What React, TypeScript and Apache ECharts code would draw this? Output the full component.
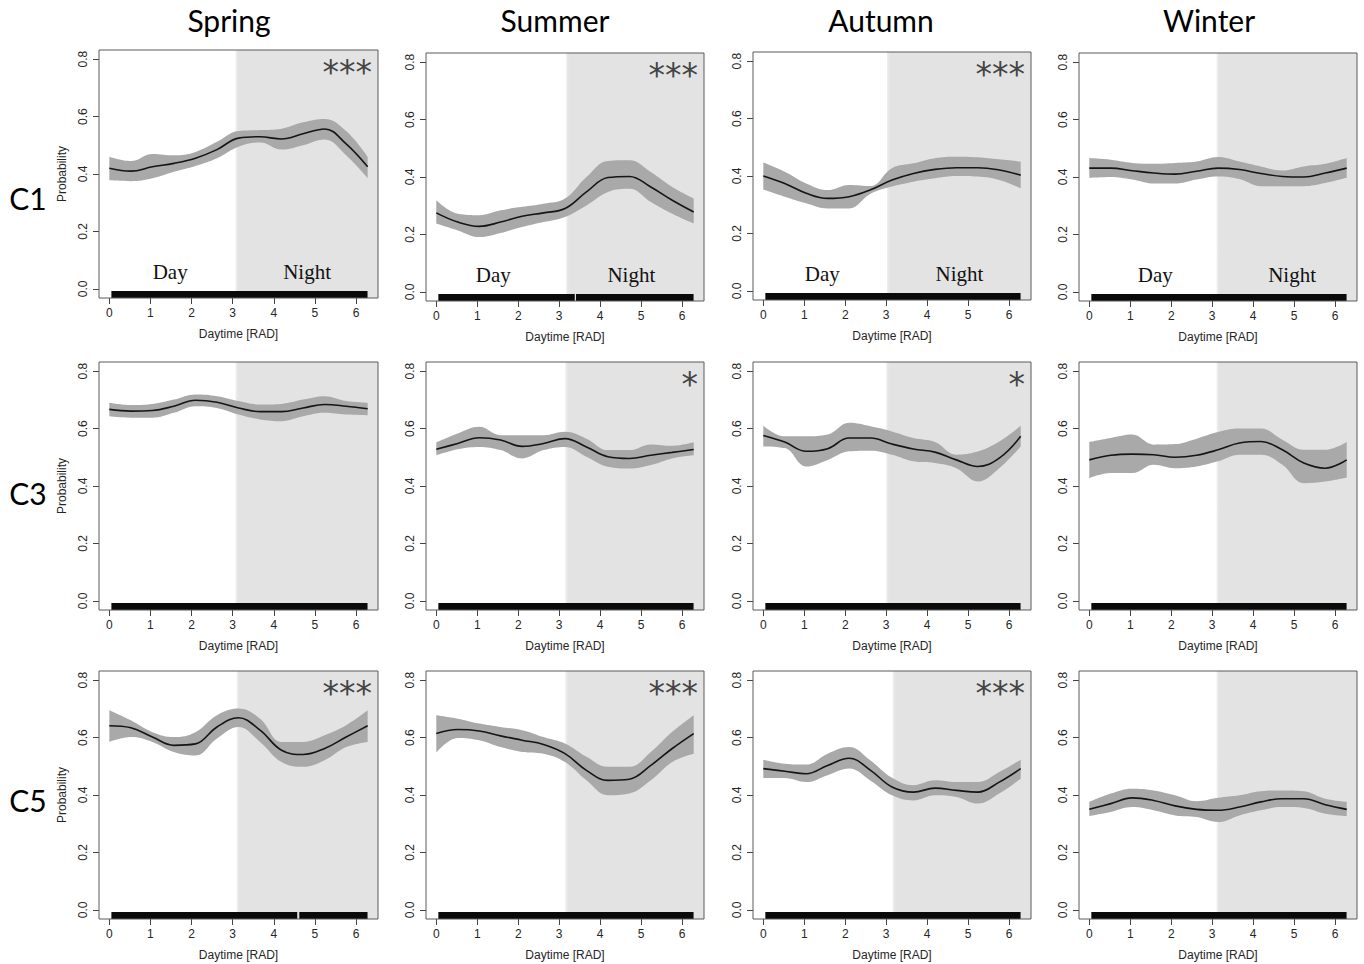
import React, { useEffect, useRef } from 'react';
import * as echarts from 'echarts';

// ---------- data ----------
const X_POINTS = [0, 0.524, 1.047, 1.571, 2.094, 2.618, 3.142, 3.665, 4.189, 4.712, 5.236, 5.76, 6.283];
const X_TICKS = [0, 1, 2, 3, 4, 5, 6];
const Y_TICKS = [0, 0.2, 0.4, 0.6, 0.8];
const SEASONS = ['Spring', 'Summer', 'Autumn', 'Winter'];
const CLUSTERS = ['C1', 'C3', 'C5'];

const SPRING_C1_MEAN = [0.42, 0.41, 0.425, 0.437, 0.455, 0.485, 0.525, 0.53, 0.522, 0.54, 0.557, 0.505, 0.425];
const SPRING_C1_UPPER = [0.46, 0.445, 0.47, 0.465, 0.477, 0.512, 0.55, 0.553, 0.558, 0.58, 0.592, 0.55, 0.46];
const SPRING_C1_LOWER = [0.378, 0.375, 0.385, 0.408, 0.428, 0.455, 0.495, 0.51, 0.485, 0.5, 0.52, 0.465, 0.385];

const SUMMER_C1_MEAN = [0.275, 0.243, 0.228, 0.243, 0.263, 0.275, 0.29, 0.348, 0.398, 0.402, 0.365, 0.319, 0.278];
const SUMMER_C1_UPPER = [0.319, 0.272, 0.267, 0.284, 0.296, 0.307, 0.325, 0.4, 0.456, 0.458, 0.417, 0.365, 0.325];
const SUMMER_C1_LOWER = [0.238, 0.214, 0.191, 0.205, 0.226, 0.243, 0.261, 0.301, 0.348, 0.359, 0.313, 0.272, 0.238];

const AUTUMN_C1_MEAN = [0.4, 0.374, 0.34, 0.322, 0.328, 0.352, 0.386, 0.409, 0.423, 0.429, 0.429, 0.421, 0.403];
const AUTUMN_C1_UPPER = [0.447, 0.415, 0.374, 0.351, 0.369, 0.365, 0.427, 0.444, 0.462, 0.467, 0.465, 0.458, 0.45];
const AUTUMN_C1_LOWER = [0.353, 0.328, 0.305, 0.287, 0.287, 0.338, 0.363, 0.38, 0.392, 0.4, 0.398, 0.386, 0.357];

const WINTER_C1_MEAN = [0.431, 0.431, 0.422, 0.414, 0.41, 0.42, 0.431, 0.426, 0.412, 0.402, 0.4, 0.414, 0.431];
const WINTER_C1_UPPER = [0.466, 0.46, 0.449, 0.446, 0.449, 0.454, 0.47, 0.454, 0.437, 0.423, 0.437, 0.446, 0.466];
const WINTER_C1_LOWER = [0.397, 0.4, 0.391, 0.377, 0.377, 0.391, 0.402, 0.393, 0.368, 0.368, 0.368, 0.379, 0.397];

const SPRING_C3_MEAN = [0.667, 0.661, 0.663, 0.678, 0.699, 0.692, 0.672, 0.659, 0.659, 0.672, 0.684, 0.678, 0.669];
const SPRING_C3_UPPER = [0.69, 0.682, 0.686, 0.701, 0.719, 0.713, 0.696, 0.684, 0.686, 0.701, 0.713, 0.696, 0.69];
const SPRING_C3_LOWER = [0.643, 0.638, 0.638, 0.655, 0.678, 0.672, 0.649, 0.632, 0.626, 0.643, 0.655, 0.649, 0.646];

const SUMMER_C3_MEAN = [0.528, 0.548, 0.568, 0.56, 0.538, 0.548, 0.565, 0.536, 0.502, 0.496, 0.507, 0.517, 0.527];
const SUMMER_C3_UPPER = [0.552, 0.583, 0.606, 0.577, 0.577, 0.577, 0.589, 0.565, 0.525, 0.525, 0.545, 0.54, 0.552];
const SUMMER_C3_LOWER = [0.507, 0.528, 0.536, 0.525, 0.496, 0.525, 0.536, 0.502, 0.467, 0.461, 0.473, 0.496, 0.507];

const AUTUMN_C3_MEAN = [0.576, 0.553, 0.521, 0.53, 0.567, 0.567, 0.546, 0.529, 0.518, 0.491, 0.468, 0.497, 0.573];
const AUTUMN_C3_UPPER = [0.61, 0.573, 0.573, 0.579, 0.62, 0.608, 0.59, 0.567, 0.553, 0.509, 0.52, 0.555, 0.61];
const AUTUMN_C3_LOWER = [0.538, 0.532, 0.468, 0.491, 0.521, 0.523, 0.509, 0.486, 0.48, 0.462, 0.416, 0.462, 0.538];

const WINTER_C3_MEAN = [0.491, 0.507, 0.511, 0.509, 0.5, 0.507, 0.526, 0.55, 0.555, 0.526, 0.48, 0.462, 0.491];
const WINTER_C3_UPPER = [0.553, 0.567, 0.579, 0.544, 0.546, 0.565, 0.588, 0.6, 0.6, 0.561, 0.526, 0.526, 0.553];
const WINTER_C3_LOWER = [0.427, 0.445, 0.445, 0.474, 0.462, 0.468, 0.486, 0.509, 0.509, 0.474, 0.41, 0.416, 0.43];

const SPRING_C5_MEAN = [0.641, 0.634, 0.602, 0.573, 0.578, 0.637, 0.669, 0.626, 0.556, 0.541, 0.562, 0.602, 0.641];
const SPRING_C5_UPPER = [0.695, 0.66, 0.619, 0.602, 0.619, 0.678, 0.701, 0.666, 0.585, 0.585, 0.608, 0.643, 0.695];
const SPRING_C5_LOWER = [0.585, 0.602, 0.585, 0.55, 0.538, 0.597, 0.637, 0.585, 0.515, 0.498, 0.521, 0.567, 0.585];

const SUMMER_C5_MEAN = [0.614, 0.628, 0.623, 0.606, 0.591, 0.576, 0.544, 0.486, 0.451, 0.455, 0.503, 0.562, 0.614];
const SUMMER_C5_UPPER = [0.678, 0.666, 0.649, 0.637, 0.626, 0.602, 0.579, 0.533, 0.498, 0.498, 0.55, 0.62, 0.678];
const SUMMER_C5_LOWER = [0.548, 0.599, 0.591, 0.567, 0.55, 0.544, 0.515, 0.451, 0.399, 0.405, 0.451, 0.515, 0.544];

const AUTUMN_C5_MEAN = [0.492, 0.483, 0.474, 0.503, 0.528, 0.486, 0.428, 0.41, 0.424, 0.416, 0.41, 0.445, 0.492];
const AUTUMN_C5_UPPER = [0.523, 0.509, 0.506, 0.544, 0.567, 0.52, 0.46, 0.434, 0.451, 0.445, 0.445, 0.48, 0.523];
const AUTUMN_C5_LOWER = [0.459, 0.459, 0.445, 0.469, 0.492, 0.45, 0.399, 0.381, 0.399, 0.393, 0.37, 0.405, 0.457];

const WINTER_C5_MEAN = [0.35, 0.37, 0.39, 0.381, 0.362, 0.35, 0.347, 0.358, 0.376, 0.387, 0.387, 0.366, 0.35];
const WINTER_C5_UPPER = [0.376, 0.405, 0.422, 0.416, 0.399, 0.378, 0.39, 0.399, 0.413, 0.416, 0.413, 0.387, 0.376];
const WINTER_C5_LOWER = [0.327, 0.341, 0.358, 0.347, 0.329, 0.323, 0.306, 0.329, 0.347, 0.358, 0.355, 0.335, 0.327];

const NIGHT_START_C1 = [3.07, 3.17, 3.02, 3.11];
const NIGHT_START_C3 = [3.07, 3.15, 3.0, 3.11];
const NIGHT_START_C5 = [3.1, 3.15, 3.16, 3.11];

const SIGNIF_C1 = ['***', '***', '***', ''];
const SIGNIF_C3 = ['', '*', '*', ''];
const SIGNIF_C5 = ['***', '***', '***', ''];

const RUG_DEFAULT = [[0.05, 6.28]];
const RUG_SUMMER_C1 = [[0.05, 3.38], [3.41, 6.28]];
const RUG_SPRING_C5 = [[0.05, 4.57], [4.62, 6.28]];

const DAY_X = [1.48, 1.39, 1.44, 1.61];
const NIGHT_X = [4.81, 4.76, 4.79, 4.95];
const LABEL_Y = 0.057;

const PANELS = [
  [
    { mean: SPRING_C1_MEAN, upper: SPRING_C1_UPPER, lower: SPRING_C1_LOWER, rug: RUG_DEFAULT },
    { mean: SUMMER_C1_MEAN, upper: SUMMER_C1_UPPER, lower: SUMMER_C1_LOWER, rug: RUG_SUMMER_C1 },
    { mean: AUTUMN_C1_MEAN, upper: AUTUMN_C1_UPPER, lower: AUTUMN_C1_LOWER, rug: RUG_DEFAULT },
    { mean: WINTER_C1_MEAN, upper: WINTER_C1_UPPER, lower: WINTER_C1_LOWER, rug: RUG_DEFAULT },
  ],
  [
    { mean: SPRING_C3_MEAN, upper: SPRING_C3_UPPER, lower: SPRING_C3_LOWER, rug: RUG_DEFAULT },
    { mean: SUMMER_C3_MEAN, upper: SUMMER_C3_UPPER, lower: SUMMER_C3_LOWER, rug: RUG_DEFAULT },
    { mean: AUTUMN_C3_MEAN, upper: AUTUMN_C3_UPPER, lower: AUTUMN_C3_LOWER, rug: RUG_DEFAULT },
    { mean: WINTER_C3_MEAN, upper: WINTER_C3_UPPER, lower: WINTER_C3_LOWER, rug: RUG_DEFAULT },
  ],
  [
    { mean: SPRING_C5_MEAN, upper: SPRING_C5_UPPER, lower: SPRING_C5_LOWER, rug: RUG_SPRING_C5 },
    { mean: SUMMER_C5_MEAN, upper: SUMMER_C5_UPPER, lower: SUMMER_C5_LOWER, rug: RUG_DEFAULT },
    { mean: AUTUMN_C5_MEAN, upper: AUTUMN_C5_UPPER, lower: AUTUMN_C5_LOWER, rug: RUG_DEFAULT },
    { mean: WINTER_C5_MEAN, upper: WINTER_C5_UPPER, lower: WINTER_C5_LOWER, rug: RUG_DEFAULT },
  ],
];
const NIGHT_STARTS = [NIGHT_START_C1, NIGHT_START_C3, NIGHT_START_C5];
const SIGNIFS = [SIGNIF_C1, SIGNIF_C3, SIGNIF_C5];

// ---------- layout / style ----------
const TWO_PI = 2 * Math.PI;
const X_MIN = -0.04 * TWO_PI;
const X_MAX = 1.04 * TWO_PI;
const Y_MIN = -0.032;
const Y_MAX = 0.832;
const RUG_TOP = -0.008;

const COL_LEFT = [99, 426, 753, 1079];
const COL_WIDTH = [279, 278, 278, 278];
const ROW_TOP = [
  [50, 53, 52, 53],
  [362, 362, 362, 362],
  [671, 671, 671, 671],
];
const PANEL_HEIGHT = 248;
const TITLE_X = [229, 555, 881, 1209];
const ROW_LABEL_Y = [198, 493, 800];

const NIGHT_COLOR = '#e3e3e3';
const BAND_COLOR = '#a9a9a9';
const LINE_COLOR = '#151515';
const TEXT_COLOR = '#262626';
const AXIS_FONT = 'Liberation Sans, Arial, sans-serif';

function toPx(r: number, c: number, xv: number, yv: number) {
  const L = COL_LEFT[c];
  const W = COL_WIDTH[c];
  const T = ROW_TOP[r][c];
  return [L + (W * (xv - X_MIN)) / (X_MAX - X_MIN), T + (PANEL_HEIGHT * (Y_MAX - yv)) / (Y_MAX - Y_MIN)];
}

function buildOption() {
  const grid: any[] = [];
  const xAxis: any[] = [];
  const yAxis: any[] = [];
  const series: any[] = [];
  const graphic: any[] = [];
  const cats = X_POINTS.map((v) => String(v));

  for (let r = 0; r < 3; r++) {
    for (let c = 0; c < 4; c++) {
      const p = r * 4 + c;
      const L = COL_LEFT[c];
      const W = COL_WIDTH[c];
      const T = ROW_TOP[r][c];
      const panel = PANELS[r][c];
      const outer = 2 * p;
      const inner = 2 * p + 1;

      grid.push({
        left: L, top: T, width: W, height: PANEL_HEIGHT,
        show: true, borderColor: '#5a5a5a', borderWidth: 1, backgroundColor: 'transparent', z: 10,
      });
      const innerLeft = L + (W * (0 - X_MIN)) / (X_MAX - X_MIN);
      const innerWidth = (W * TWO_PI) / (X_MAX - X_MIN);
      grid.push({ left: innerLeft, top: T, width: innerWidth, height: PANEL_HEIGHT, show: false });

      xAxis.push({
        gridIndex: outer, type: 'value', min: X_MIN, max: X_MAX, position: 'bottom',
        axisLine: { show: false, onZero: false }, splitLine: { show: false },
        axisTick: { show: true, length: 6, customValues: X_TICKS, lineStyle: { color: '#444' } },
        axisLabel: { customValues: X_TICKS, fontSize: 12, color: TEXT_COLOR, fontFamily: AXIS_FONT, margin: 9 },
        name: 'Daytime [RAD]', nameLocation: 'middle', nameGap: 30,
        nameTextStyle: { fontSize: 12, color: TEXT_COLOR, fontFamily: AXIS_FONT },
      });
      yAxis.push({
        gridIndex: outer, type: 'value', min: Y_MIN, max: Y_MAX, position: 'left',
        axisLine: { show: false, onZero: false }, splitLine: { show: false },
        axisTick: { show: true, length: 6, customValues: Y_TICKS, lineStyle: { color: '#444' } },
        axisLabel: {
          customValues: Y_TICKS, rotate: 90, fontSize: 12, color: TEXT_COLOR, fontFamily: AXIS_FONT, margin: 10,
          formatter: (v: number) => v.toFixed(1),
        },
        name: c === 0 ? 'Probability' : '', nameLocation: 'middle', nameGap: 31, nameRotate: 90,
        nameTextStyle: { fontSize: 12, color: TEXT_COLOR, fontFamily: AXIS_FONT },
      });
      xAxis.push({ gridIndex: inner, type: 'category', data: cats, boundaryGap: false, show: false });
      yAxis.push({ gridIndex: inner, type: 'value', min: Y_MIN, max: Y_MAX, show: false });

      const ns = NIGHT_STARTS[r][c];
      series.push({
        type: 'line', xAxisIndex: outer, yAxisIndex: outer, data: [[ns, Y_MIN]], symbol: 'none', silent: true,
        lineStyle: { width: 0 },
        markArea: {
          silent: true, z: 1,
          itemStyle: {
            color: {
              type: 'linear', x: 0, y: 0, x2: 1, y2: 0,
              colorStops: [
                { offset: 0, color: '#efefef' },
                { offset: 0.02, color: NIGHT_COLOR },
                { offset: 1, color: NIGHT_COLOR },
              ],
            },
          },
          data: [[{ coord: [ns, Y_MIN] }, { coord: [X_MAX, Y_MAX] }]],
        },
      });
      series.push({
        type: 'line', xAxisIndex: outer, yAxisIndex: outer, data: [[0, Y_MIN]], symbol: 'none', silent: true,
        lineStyle: { width: 0 },
        markArea: {
          silent: true, z: 5,
          itemStyle: { color: '#0a0a0a' },
          data: panel.rug.map((seg) => [{ coord: [seg[0], Y_MIN] }, { coord: [seg[1], RUG_TOP] }]),
        },
      });
      const stack = 'band' + p;
      series.push({
        type: 'line', xAxisIndex: inner, yAxisIndex: inner, data: panel.lower, stack,
        symbol: 'none', smooth: 0.4, lineStyle: { width: 0 }, silent: true, z: 2,
      });
      series.push({
        type: 'line', xAxisIndex: inner, yAxisIndex: inner,
        data: panel.upper.map((u, i) => +(u - panel.lower[i]).toFixed(4)), stack,
        symbol: 'none', smooth: 0.4, lineStyle: { width: 0 }, silent: true, z: 2,
        areaStyle: { color: BAND_COLOR, opacity: 1 },
      });
      series.push({
        type: 'line', xAxisIndex: inner, yAxisIndex: inner, data: panel.mean,
        symbol: 'none', smooth: 0.4, lineStyle: { width: 1.6, color: LINE_COLOR }, silent: true, z: 3,
      });

      const sig = SIGNIFS[r][c];
      if (sig) {
        graphic.push({
          type: 'text', x: L + W - 6, y: T + 6, z: 20,
          style: {
            text: sig, fontSize: 33, fontFamily: 'DejaVu Sans', fill: '#444',
            align: 'right', textAlign: 'right', verticalAlign: 'top', textVerticalAlign: 'top',
          },
        });
      }
      if (r === 0) {
        const dp = toPx(r, c, DAY_X[c], LABEL_Y);
        const np = toPx(r, c, NIGHT_X[c], LABEL_Y);
        [['Day', dp], ['Night', np]].forEach(([t, pt]: any) => {
          graphic.push({
            type: 'text', x: pt[0], y: pt[1], z: 20,
            style: {
              text: t, fontSize: 21, fontFamily: 'Liberation Serif, serif', fill: '#111',
              align: 'center', textAlign: 'center', verticalAlign: 'middle', textVerticalAlign: 'middle',
            },
          });
        });
      }
    }
  }

  SEASONS.forEach((s, c) => {
    graphic.push({
      type: 'text', x: TITLE_X[c], y: 20, z: 20,
      style: {
        text: s, fontSize: 30, fontFamily: 'Lato, sans-serif', fill: '#000',
        align: 'center', textAlign: 'center', verticalAlign: 'middle', textVerticalAlign: 'middle',
      },
    });
  });
  CLUSTERS.forEach((cl, r) => {
    graphic.push({
      type: 'text', x: 28, y: ROW_LABEL_Y[r], z: 20,
      style: {
        text: cl, fontSize: 30, fontFamily: 'Lato, sans-serif', fill: '#000',
        align: 'center', textAlign: 'center', verticalAlign: 'middle', textVerticalAlign: 'middle',
      },
    });
  });

  return { animation: false, backgroundColor: '#ffffff', grid, xAxis, yAxis, series, graphic };
}

export default function App() {
  const ref = useRef<HTMLDivElement>(null);
  useEffect(() => {
    if (!ref.current) return;
    const chart = echarts.init(ref.current, null, { renderer: 'svg' });
    chart.setOption(buildOption() as any);
    return () => chart.dispose();
  }, []);
  return <div ref={ref} style={{ position: 'absolute', left: 0, top: 0, width: 1364, height: 964 }} />;
}
